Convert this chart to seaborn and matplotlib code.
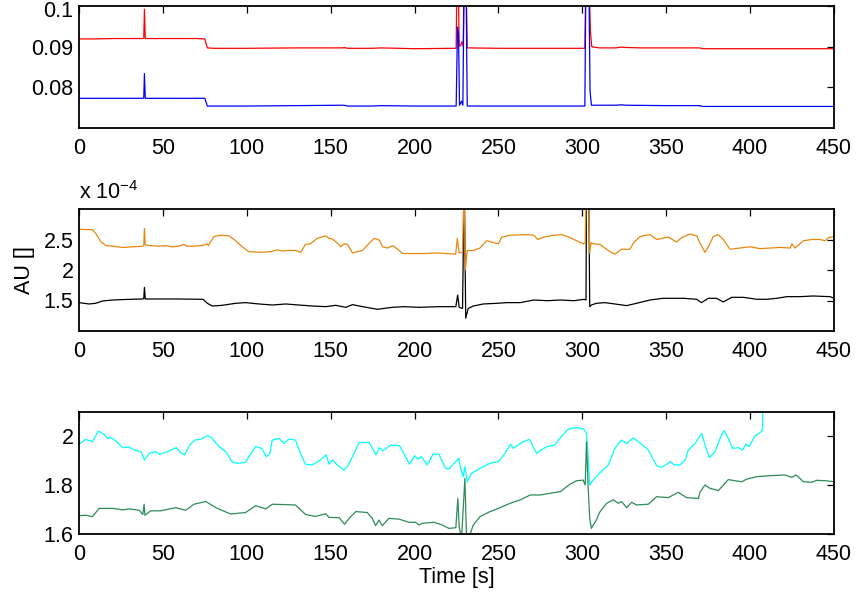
import matplotlib
matplotlib.use('Agg')
import matplotlib.pyplot as plt
import matplotlib.transforms as mtransforms
import seaborn as sns
import pandas as pd
from matplotlib.ticker import FuncFormatter

# oberes Panel: (Zeit, Wert)
red_pts = [(0, 0.0919), (10, 0.0919), (20, 0.0920), (30, 0.0920), (38, 0.0920), (38.6, 0.0921),
           (39, 0.0992), (39.5, 0.0920), (50, 0.0920), (60, 0.0920), (70, 0.0920), (75, 0.0919),
           (76.5, 0.0897), (80, 0.0896), (100, 0.0896), (130, 0.0897), (157, 0.0897), (158, 0.0898),
           (160, 0.0896), (175, 0.0896), (180, 0.0897), (200, 0.0895), (224.8, 0.0896), (225.3, 0.11),
           (225.9, 0.11), (226.6, 0.0901), (227.5, 0.0903), (228.2, 0.0912), (229, 0.0900),
           (229.6, 0.11), (230.6, 0.11), (231.4, 0.0897), (250, 0.0896), (280, 0.0896),
           (301.5, 0.0896), (302.2, 0.11), (303.8, 0.11), (304.8, 0.0940), (305.6, 0.0900),
           (310, 0.0897), (320, 0.0897), (323, 0.0899), (326, 0.0898), (335, 0.0897), (350, 0.0897),
           (370, 0.0897), (371.5, 0.0895), (400, 0.0895), (430, 0.0895), (450, 0.0895)]

blue_pts = [(0, 0.0773), (20, 0.0773), (38, 0.0773), (38.6, 0.0774), (39, 0.0834), (39.5, 0.0773),
            (60, 0.0773), (75, 0.0773), (76.5, 0.0754), (100, 0.0754), (157, 0.0756), (158, 0.0756),
            (160, 0.0754), (175, 0.0754), (180, 0.0755), (200, 0.0754), (224.8, 0.0754),
            (225.6, 0.0948), (226.2, 0.0930), (226.8, 0.0756), (228, 0.0766), (228.8, 0.0756),
            (229.6, 0.11), (230.6, 0.11), (231.4, 0.0754), (260, 0.0754), (301.5, 0.0754),
            (302.2, 0.11), (303.8, 0.11), (304.6, 0.0791), (305.4, 0.0756), (320, 0.0756),
            (323, 0.0757), (326, 0.0756), (350, 0.0755), (370, 0.0755), (371.5, 0.0753),
            (400, 0.0753), (450, 0.0753)]

# mittleres Panel, Werte in 1e-4
orange_pts = [(0, 2.667), (8, 2.66), (10, 2.60), (13, 2.465), (16, 2.40), (20, 2.39), (26, 2.37),
              (38, 2.39), (38.6, 2.40), (39, 2.68), (39.5, 2.41), (42.7, 2.40), (47.7, 2.39),
              (51.6, 2.40), (55.6, 2.38), (59.6, 2.39), (62.6, 2.42), (64, 2.39), (67.5, 2.39),
              (73.5, 2.40), (76.5, 2.43), (77, 2.40), (80.5, 2.55), (84.4, 2.57), (89.4, 2.56),
              (93.4, 2.48), (97.3, 2.38), (101.3, 2.30), (108.3, 2.29), (114.2, 2.30), (118.2, 2.33),
              (121.2, 2.31), (125.1, 2.32), (129.1, 2.32), (132.1, 2.29), (135, 2.42), (138, 2.43),
              (142, 2.52), (147, 2.56), (149, 2.52), (151, 2.51), (154, 2.44), (156, 2.38),
              (158, 2.43), (160, 2.42), (163, 2.28), (166, 2.30), (169, 2.32), (173, 2.44),
              (176, 2.52), (179, 2.49), (181, 2.38), (184, 2.36), (187, 2.40), (189, 2.36),
              (193, 2.27), (199, 2.27), (206.6, 2.27), (213.5, 2.28), (218.5, 2.27), (224.5, 2.26),
              (225.5, 2.52), (226.6, 2.28), (228.6, 2.29), (229.6, 3.5), (230.2, 2.0), (231.4, 2.32),
              (235, 2.32), (239, 2.36), (243, 2.48), (247, 2.45), (250, 2.43), (252, 2.54),
              (257, 2.57), (267, 2.58), (271, 2.57), (273.4, 2.50), (277, 2.54), (283, 2.57),
              (288, 2.58), (292, 2.54), (296.5, 2.48), (300.5, 2.43), (301.7, 2.44), (302.5, 3.5),
              (303.6, 3.5), (304.4, 2.28), (305.2, 2.45), (306.4, 2.43), (310.4, 2.42),
              (314.4, 2.34), (316.5, 2.30), (319.4, 2.26), (323.4, 2.34), (328.4, 2.34),
              (330.4, 2.44), (334.3, 2.55), (340.3, 2.58), (344.3, 2.50), (351.2, 2.54),
              (356.2, 2.46), (359.2, 2.53), (364.2, 2.59), (368.2, 2.56), (370.5, 2.42),
              (373.1, 2.29), (375.1, 2.38), (378.1, 2.55), (381.1, 2.58), (384, 2.50), (388, 2.34),
              (394, 2.36), (400, 2.38), (406, 2.35), (412, 2.36), (417.9, 2.37), (423.9, 2.36),
              (424.9, 2.43), (426.8, 2.36), (431.8, 2.48), (436.7, 2.50), (441.7, 2.50),
              (444.7, 2.48), (446.7, 2.53), (450, 2.55)]

black_pts = [(0, 1.465), (6, 1.443), (10, 1.454), (14, 1.492), (20, 1.508), (30, 1.519), (38, 1.525),
             (38.6, 1.53), (39, 1.716), (39.5, 1.525), (50, 1.525), (60, 1.525), (74, 1.519),
             (76.5, 1.454), (79.5, 1.410), (85.4, 1.421), (93.4, 1.454), (99.3, 1.465),
             (107.3, 1.443), (115.2, 1.426), (123.2, 1.443), (131, 1.426), (139, 1.410),
             (147, 1.399), (153, 1.421), (159, 1.388), (163, 1.432), (169, 1.399), (177.8, 1.356),
             (186.7, 1.388), (193.7, 1.399), (202.6, 1.388), (214.5, 1.399), (224.6, 1.399),
             (225.7, 1.59), (226.6, 1.388), (228.6, 1.37), (229.6, 3.5), (230.5, 1.21), (232, 1.37),
             (235, 1.41), (241, 1.443), (249, 1.454), (255, 1.465), (263, 1.465), (271, 1.508),
             (279, 1.497), (287, 1.508), (295, 1.497), (301, 1.519), (302.2, 1.508), (302.5, 3.5),
             (303.8, 3.5), (304.4, 1.399), (305.4, 1.426), (308.4, 1.454), (313.4, 1.465),
             (316.5, 1.454), (326.4, 1.416), (332.3, 1.454), (340.3, 1.508), (348.2, 1.536),
             (360.2, 1.536), (368.2, 1.52), (371, 1.465), (375.1, 1.536), (380, 1.536),
             (384, 1.476), (389, 1.552), (396, 1.552), (404, 1.52), (410, 1.52), (415.9, 1.536),
             (421.9, 1.563), (429.8, 1.563), (437.7, 1.574), (447.7, 1.563), (450, 1.536)]

# unteres Panel
cyan_pts = [(0, 1.968), (4, 1.988), (8, 1.978), (11.5, 2.022), (15, 2.008), (17, 1.992), (19, 1.996),
            (22, 1.981), (26, 1.954), (30, 1.956), (33, 1.944), (37, 1.937), (39, 1.903), (42, 1.931),
            (46, 1.937), (48, 1.927), (52, 1.935), (58, 1.954), (61, 1.931), (63, 1.924), (66, 1.965),
            (69, 1.985), (72.5, 1.988), (76.5, 2.003), (78.5, 1.998), (83.5, 1.958), (87.5, 1.937),
            (91.4, 1.894), (95, 1.890), (99.3, 1.894), (101.3, 1.917), (105.3, 1.958),
            (108.9, 1.951), (111.6, 1.917), (113.6, 1.927), (115.2, 1.985), (119.2, 1.992),
            (122.2, 1.971), (125, 1.989), (129, 1.985), (132, 1.931), (135, 1.886), (139, 1.883),
            (143, 1.899), (147.4, 1.924), (149, 1.886), (151, 1.903), (154, 1.883), (158, 1.862),
            (160, 1.876), (163, 1.917), (167, 1.975), (173, 1.975), (177, 1.924), (179, 1.954),
            (181, 1.941), (186, 1.965), (191, 1.962), (194, 1.924), (197, 1.886), (200, 1.921),
            (202, 1.907), (204, 1.917), (207.6, 1.883), (211, 1.927), (214.5, 1.927),
            (218.5, 1.869), (220.5, 1.866), (223.5, 1.890), (225.5, 1.903), (226.5, 1.910),
            (227.4, 1.869), (229, 1.835), (230, 1.876), (231.4, 1.814), (234, 1.849), (239, 1.869),
            (245, 1.890), (250, 1.897), (254, 1.931), (257.3, 1.968), (258.8, 1.951),
            (263.8, 1.975), (268.4, 1.988), (272.7, 1.931), (278.7, 1.958), (283.6, 1.965),
            (286.6, 1.992), (291.6, 2.030), (296.5, 2.036), (300.9, 2.030), (302.5, 2.012),
            (303.4, 1.924), (304.4, 1.801), (306.4, 1.821), (310.4, 1.85), (315.5, 1.883),
            (319.4, 1.951), (323.4, 1.985), (326.4, 1.971), (330.4, 1.994), (335.3, 1.968),
            (339.3, 1.944), (344.3, 1.880), (347.3, 1.873), (350.2, 1.886), (352.6, 1.897),
            (354.6, 1.883), (358.2, 1.883), (361.2, 1.903), (363.2, 1.944), (367.2, 1.971),
            (371.1, 2.012), (373.1, 1.965), (375.7, 1.913), (379.1, 1.937), (382.1, 1.992),
            (384.4, 2.024), (387, 1.992), (389.6, 1.951), (393, 1.954), (395.5, 1.944),
            (397.5, 1.968), (399.5, 1.958), (402.9, 2.003), (405.4, 2.012), (407.4, 2.026),
            (407.8, 2.25)]

green_pts = [(0, 1.675), (4, 1.677), (8, 1.671), (12, 1.705), (20, 1.705), (26, 1.699), (30, 1.703),
             (36, 1.697), (38, 1.680), (38.8, 1.722), (39.3, 1.677), (42.7, 1.695), (48.7, 1.695),
             (57.6, 1.708), (63.6, 1.697), (68.5, 1.722), (75.5, 1.733), (82.4, 1.705),
             (90.4, 1.682), (99.3, 1.688), (105.3, 1.716), (111.2, 1.703), (115.2, 1.722),
             (129, 1.719), (135, 1.680), (141, 1.672), (147, 1.683), (149, 1.668), (155, 1.667),
             (158.3, 1.640), (161, 1.664), (165, 1.692), (171.8, 1.688), (174.8, 1.664),
             (176.8, 1.634), (178.8, 1.657), (180.8, 1.634), (184.7, 1.664), (190.7, 1.661),
             (196.7, 1.648), (200.6, 1.648), (202.6, 1.637), (204.6, 1.644), (211.6, 1.648),
             (216.5, 1.637), (220.5, 1.623), (224.6, 1.626), (225.8, 1.746), (226.6, 1.630),
             (228, 1.58), (230, 1.828), (231, 1.58), (232.6, 1.59), (235, 1.637), (239, 1.671),
             (245, 1.692), (250, 1.705), (257, 1.726), (263, 1.740), (269, 1.760), (275, 1.760),
             (281, 1.767), (287, 1.774), (292.6, 1.804), (296.5, 1.818), (300.5, 1.821),
             (301.7, 1.801), (302.5, 1.978), (303.4, 1.801), (304.4, 1.665), (305.4, 1.623),
             (308.4, 1.658), (310.5, 1.691), (314.5, 1.726), (318.4, 1.740), (321.4, 1.726),
             (323.4, 1.733), (326.4, 1.708), (329.4, 1.730), (332.3, 1.719), (339.3, 1.722),
             (344.3, 1.753), (351.2, 1.749), (357.2, 1.771), (362.2, 1.749), (369.2, 1.746),
             (370.1, 1.771), (373.1, 1.801), (376.1, 1.787), (381.1, 1.778), (387, 1.823),
             (395, 1.814), (398, 1.825), (403.9, 1.835), (411.9, 1.839), (420.8, 1.842),
             (424.8, 1.832), (427.4, 1.842), (431.8, 1.814), (436.7, 1.812), (439.7, 1.820),
             (445.7, 1.818), (450, 1.814)]

x_ticks = [0, 50, 100, 150, 200, 250, 300, 350, 400, 450]


def to_df(pts, scale=1.0):
    df = pd.DataFrame(pts, columns=['t', 'wert'])
    df['wert'] = df['wert'] * scale
    return df


def style_axes(ax, ylim, yticks, fmt):
    ax.set_xlim(0, 450)
    ax.set_ylim(*ylim)
    ax.set_xticks(x_ticks)
    ax.set_yticks(yticks)
    ax.yaxis.set_major_formatter(FuncFormatter(fmt))
    ax.tick_params(direction='in', top=True, right=True, length=5, width=0.9,
                   labelsize=15.5, pad=7, colors='black')
    ax.tick_params(axis='y', pad=4)
    ax.set_xlabel('')
    ax.set_ylabel('')
    for s in ax.spines.values():
        s.set_linewidth(1.3)
        s.set_color('black')


sns.set_style('white')
plt.rcParams['font.family'] = ['Liberation Sans', 'DejaVu Sans']
plt.rcParams['mathtext.default'] = 'regular'
plt.rcParams['text.color'] = 'black'
plt.rcParams['axes.labelcolor'] = 'black'

fig = plt.figure(figsize=(8.6, 5.94), dpi=100)
left, width, h = 79 / 860, 755 / 860, 122 / 594
ax1 = fig.add_axes([left, 1 - 128 / 594, width, h])
ax2 = fig.add_axes([left, 1 - 331 / 594, width, h])
ax3 = fig.add_axes([left, 1 - 534 / 594, width, h])

lw = 0.9
# Panel 1
for pts, col in [(red_pts, '#ff0000'), (blue_pts, '#0000ff')]:
    sns.lineplot(data=to_df(pts), x='t', y='wert', ax=ax1, color=col, lw=lw,
                 sort=False, estimator=None)
style_axes(ax1, (0.07, 0.1), [0.08, 0.09, 0.1], lambda v, p: '%g' % round(v, 4))

# "0.1" sitzt ganz oben am Rand, ein paar Pixel nach unten schieben
top_label = ax1.get_yticklabels()[-1]
top_label.set_transform(top_label.get_transform() +
                        mtransforms.ScaledTranslation(0, -2.5 / 72, fig.dpi_scale_trans))

# Panel 2
for pts, col in [(black_pts, '#000000'), (orange_pts, '#e8870e')]:
    sns.lineplot(data=to_df(pts, 1e-4), x='t', y='wert', ax=ax2, color=col, lw=lw,
                 sort=False, estimator=None)
style_axes(ax2, (1e-4, 3e-4), [1.5e-4, 2e-4, 2.5e-4], lambda v, p: '%g' % round(v * 1e4, 3))
ax2.text(0, 1.04, 'x 10$^{-4}$', transform=ax2.transAxes, fontsize=15.5, ha='left', va='bottom',
         color='black')
ax2.set_ylabel('AU []', fontsize=15.5, labelpad=6, color='black')

# Panel 3
for pts, col in [(cyan_pts, '#00ffff'), (green_pts, '#2e8b57')]:
    sns.lineplot(data=to_df(pts), x='t', y='wert', ax=ax3, color=col, lw=lw,
                 sort=False, estimator=None)
style_axes(ax3, (1.6, 2.1), [1.6, 1.8, 2.0], lambda v, p: '%g' % round(v, 3))

fig.text(456.5 / 860, 1 - 578 / 594, 'Time [s]', fontsize=15.5, ha='center', va='center',
         color='black')

fig.savefig('out.png', dpi=100)
